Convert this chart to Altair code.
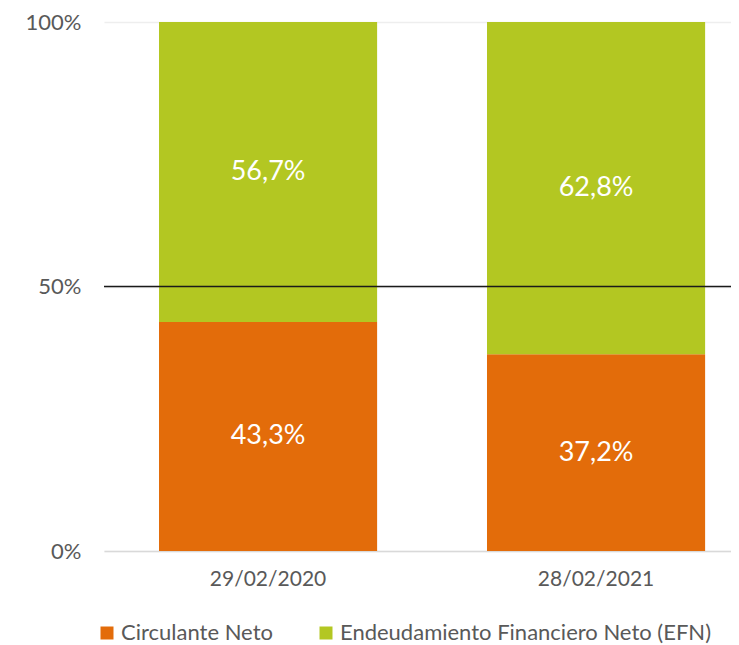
import altair as alt
import pandas as pd

dates = ["29/02/2020", "28/02/2021"]
series = ["Circulante Neto", "Endeudamiento Financiero Neto (EFN)"]
circulante = [43.3, 37.2]
efn = [56.7, 62.8]
colors = ["#E36C0A", "#B3C722"]

rows = []
for i, d in enumerate(dates):
    for j, (s, vals) in enumerate(zip(series, [circulante, efn])):
        v = vals[i]
        rows.append({"fecha": d, "serie": s, "orden": j, "valor": v / 100.0,
                     "etiqueta": f"{v:.1f}%".replace(".", ",")})
df = pd.DataFrame(rows)

FONT = "Lato"
GRAY = "#595959"

x = alt.X("fecha:N", sort=dates, title=None,
          scale=alt.Scale(paddingInner=0.335, paddingOuter=0.1233, align=0.68),
          axis=alt.Axis(labelAngle=0, ticks=False, domainColor="#D9D9D9", domainWidth=1.5,
                        labelFontSize=21, labelColor=GRAY, labelFont=FONT, labelPadding=17))

base = alt.Chart(df)

bars = base.mark_bar().encode(
    x=x,
    y=alt.Y("valor:Q", stack="zero", title=None,
            scale=alt.Scale(domain=[0, 1], nice=False),
            axis=alt.Axis(values=[0, 0.5, 1], format=".0%", domain=False, ticks=False,
                          labelPadding=23, labelFontSize=22, labelColor=GRAY, labelFont=FONT,
                          gridColor="#EEEEEE", gridWidth=1.5)),
    color=alt.Color("serie:N", sort=series, title=None,
                    scale=alt.Scale(domain=series, range=colors),
                    legend=alt.Legend(orient="none", legendX=-8, legendY=600, direction="horizontal",
                                      symbolType="square", symbolSize=169, symbolStrokeWidth=0,
                                      labelFontSize=22, labelColor=GRAY, labelFont=FONT,
                                      labelLimit=600, labelOffset=3, columnPadding=42)),
    order=alt.Order("orden:Q"),
)

labels = base.transform_stack(
    stack="valor", groupby=["fecha"], as_=["y0", "y1"], sort=[alt.SortField("orden")]
).transform_calculate(
    ymid="(datum.y0 + datum.y1) / 2"
).mark_text(color="white", fontSize=27, font=FONT, baseline="middle").encode(
    x=alt.X("fecha:N", sort=dates),
    y=alt.Y("ymid:Q"),
    text="etiqueta:N",
)

rule = alt.Chart(pd.DataFrame({"y": [0.5]})).mark_rule(color="#1a1a1a", strokeWidth=1.5).encode(
    y="y:Q"
)

chart = alt.layer(bars, labels, rule).properties(
    width=627, height=529,
    autosize=alt.AutoSizeParams(type="none"),
    padding={"left": 96, "top": 14, "right": 0, "bottom": 96},
).configure_view(stroke=None)

chart.save("out.html", embed_options={"renderer": "svg", "actions": False})
